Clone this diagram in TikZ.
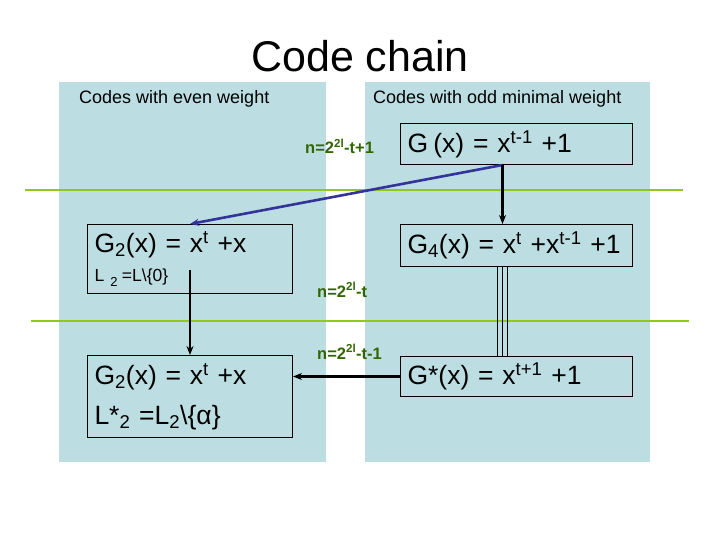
\documentclass[tikz,border=0pt]{standalone}
\usepackage{fontspec}
\setmainfont{Liberation Sans}
\usetikzlibrary{arrows.meta}
\definecolor{panel}{RGB}{188,222,226}
\definecolor{gline}{RGB}{146,200,30}
\definecolor{gtext}{RGB}{51,102,0}
\definecolor{barrow}{RGB}{51,51,153}
\newcommand\fsz[2]{\fontsize{#1}{#2}\selectfont}
\begin{document}
\begin{tikzpicture}[x=1pt,y=-1pt,
  eqbox/.style={draw=black,line width=1pt,anchor=north west,align=left,inner xsep=7pt,inner ysep=2pt,font=\fsz{26.5}{32}},
  nlabel/.style={text=gtext,font=\bfseries\fsz{16.5}{19},anchor=base west,inner sep=0pt},
  hdr/.style={font=\fsz{18}{21},anchor=base west,inner sep=0pt},
  arr/.style={line width=2.2pt,-{Stealth[length=9pt,width=7pt]}},
  sep/.style={draw=gline,line width=1.3pt}]
\useasboundingbox (0,0) rectangle (720,540);
\fill[white] (0,0) rectangle (720,540);
% panels
\fill[panel] (59,82) rectangle (326,462);
\fill[panel] (365,82) rectangle (650,462);
% separator lines
\draw[sep] (25,190) -- (683,190);
\draw[sep] (31,321) -- (689,321);
% title and headers
\node[font=\fsz{43}{50},anchor=base,inner sep=0pt] (title) at (360,72) {Code chain};
\node[hdr] (heven) at (79,104) {Codes with even weight};
\node[hdr] (hodd) at (373,104) {Codes with odd minimal weight};
% boxes
\node[eqbox,minimum width=232,minimum height=41,text width=218] (g) at (400,123)
  {G\hspace{0.2em}(x) = x\textsuperscript{t-1} +1};
\node[eqbox,minimum width=232,minimum height=42,text width=218] (g4) at (400,224)
  {G\textsubscript{4}(x) = x\textsuperscript{t} +x\textsuperscript{t-1} +1};
\node[eqbox,minimum width=232,minimum height=40,text width=218] (gs) at (400,356)
  {G*(x) = x\textsuperscript{t+1} +1};
\node[eqbox,minimum width=205,minimum height=69,text width=191] (g2) at (87,224)
  {G\textsubscript{2}(x) = x\textsuperscript{t} +x\\[-3pt]{\fsz{17.5}{19}L\hspace{0.35em}\raisebox{-5pt}{\fsz{13}{14}2}\hspace{0.25em}=L\textbackslash\{0\}}};
\node[eqbox,minimum width=205,minimum height=82,text width=191,font=\fsz{26.5}{40}] (g2b) at (87,355)
  {G\textsubscript{2}(x) = x\textsuperscript{t} +x\\L*\textsubscript{2} =L\textsubscript{2}\textbackslash\{α\}};
% labels
\node[nlabel] (n1) at (305,154) {n=2\textsuperscript{2l}-t+1};
\node[nlabel] (n2) at (317,297) {n=2\textsuperscript{2l}-t};
\node[nlabel] (n3) at (317,359) {n=2\textsuperscript{2l}-t-1};
% connectors
\coordinate (gout) at ([xshift=-14pt]g.south);
\coordinate (g4in) at ([xshift=-14pt]g4.north);
\coordinate (g2start) at ([yshift=-46pt]g2.north);
\draw[arr,draw=barrow,line width=2.6pt] (gout) -- (g2.north);
\draw[arr] (gout) -- (g4in);
\draw[arr] (g2start) -- (g2b.north);
\draw[arr] (gs.west) -- (gs.west -| g2b.east);
\foreach \dx/\nm in {-19/a,-14/b,-9/c}{
  \draw[line width=1pt] ([xshift=\dx pt]g4.south) -- ([xshift=\dx pt]gs.north);
}
\end{tikzpicture}
\end{document}
